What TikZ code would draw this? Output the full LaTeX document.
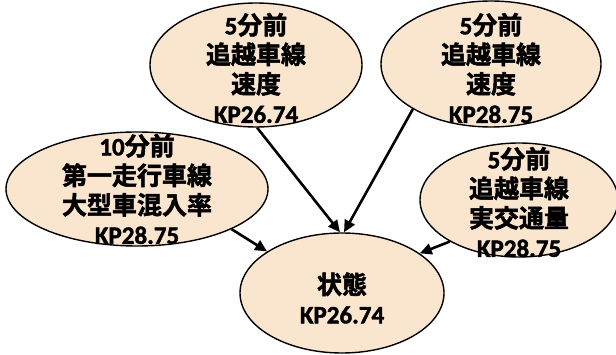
\documentclass[tikz,border=0pt]{standalone}
\usepackage{fontspec}
\setmainfont{Carlito}[UprightFont=* Bold, BoldFont=* Bold, FakeBold=1.6]
\newfontfamily\cjk{Noto Sans CJK JP Bold}[FakeBold=2]
\usetikzlibrary{shapes.geometric,arrows.meta}
\newcommand{\J}[1]{{\cjk #1}}
\definecolor{peach}{RGB}{250,229,207}
\tikzset{
  blob/.style={ellipse, draw=black, line width=1.4pt, fill=peach, inner sep=0pt},
  lbl/.style={align=center, font=\fontsize{25}{29.5}\selectfont, inner sep=0pt},
  arr/.style={line width=2.6pt, -{Triangle[length=12pt,width=11pt]}}
}
\begin{document}
\begin{tikzpicture}[x=1pt,y=-1pt]
\useasboundingbox (0,0) rectangle (616,355);
\fill[white] (0,0) rectangle (616,355);
% ellipses
\node[blob, minimum width=212pt, minimum height=124pt] (tl) at (256,65) {};
\node[blob, minimum width=220pt, minimum height=126pt] (tr) at (491,64) {};
\node[blob, minimum width=262pt, minimum height=114pt] (l) at (137,189) {};
\node[blob, minimum width=198pt, minimum height=114pt] (r) at (519,200) {};
\node[blob, minimum width=204pt, minimum height=120pt] (b) at (342,293) {};
% labels
\node[lbl] (tlt) at (256,68) {5\J{分前}\\\J{追越車線}\\\J{速度}\\KP26.74};
\node[lbl] (trt) at (491,68) {5\J{分前}\\\J{追越車線}\\\J{速度}\\KP28.75};
\node[lbl] (lt) at (137,189) {10\J{分前}\\\J{第一走行車線}\\\J{大型車混入率}\\KP28.75};
\node[lbl] (rt) at (519,202) {5\J{分前}\\\J{追越車線}\\\J{実交通量}\\KP28.75};
\node[lbl] (bt) at (342,298) {\J{状態}\\KP26.74};
% arrows
\draw[arr] (tl.-89) -- ([xshift=-2pt]b.north);
\draw[arr] (tr.210) -- ([xshift=2pt]b.north);
\draw[arr] (l.-23) -- (b.151);
\draw[arr] (r.211) -- (b.27);
\end{tikzpicture}
\end{document}
